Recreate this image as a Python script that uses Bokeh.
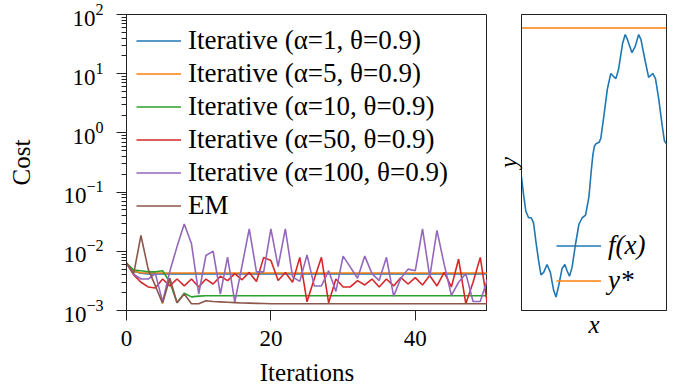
from bokeh.plotting import figure
from bokeh.layouts import row
from bokeh.models import Range1d, Legend, LegendItem, FixedTicker, LogTicker
from bokeh.embed import file_html
from bokeh.resources import INLINE

# ---------------- data ----------------
iterations = list(range(51))

cost_alpha1 = [6.3e-3, 4.6e-3, 4.25e-3, 4.15e-3, 4.15e-3, 4.15e-3, 4.15e-3, 4.15e-3, 4.15e-3, 4.15e-3,
               4.15e-3, 4.15e-3, 4.15e-3, 4.15e-3, 4.15e-3, 4.15e-3, 4.15e-3, 4.15e-3, 4.15e-3, 4.15e-3,
               4.15e-3, 4.15e-3, 4.15e-3, 4.15e-3, 4.15e-3, 4.15e-3, 4.15e-3, 4.15e-3, 4.15e-3, 4.15e-3,
               4.15e-3, 4.15e-3, 4.15e-3, 4.15e-3, 4.15e-3, 4.15e-3, 4.15e-3, 4.15e-3, 4.15e-3, 4.15e-3,
               4.15e-3, 4.15e-3, 4.15e-3, 4.15e-3, 4.15e-3, 4.15e-3, 4.15e-3, 4.15e-3, 4.15e-3, 4.15e-3,
               4.15e-3]
cost_alpha5 = [6.3e-3, 4.6e-3, 4.35e-3, 4.3e-3, 4.3e-3, 4.3e-3, 4.3e-3, 4.3e-3, 4.3e-3, 4.3e-3,
               4.3e-3, 4.3e-3, 4.3e-3, 4.3e-3, 4.3e-3, 4.3e-3, 4.3e-3, 4.3e-3, 4.3e-3, 4.3e-3,
               4.3e-3, 4.3e-3, 4.3e-3, 4.3e-3, 4.3e-3, 4.3e-3, 4.3e-3, 4.3e-3, 4.3e-3, 4.3e-3,
               4.3e-3, 4.3e-3, 4.3e-3, 4.3e-3, 4.3e-3, 4.3e-3, 4.3e-3, 4.3e-3, 4.3e-3, 4.3e-3,
               4.3e-3, 4.3e-3, 4.3e-3, 4.3e-3, 4.3e-3, 4.3e-3, 4.3e-3, 4.3e-3, 4.3e-3, 4.3e-3,
               4.3e-3]
cost_alpha10 = [6.3e-3, 4.8e-3, 4.7e-3, 4.5e-3, 4.5e-3, 4.7e-3, 3.0e-3, 1.35e-3, 1.95e-3, 1.7e-3,
                1.75e-3, 1.78e-3, 1.78e-3, 1.78e-3, 1.78e-3, 1.78e-3, 1.78e-3, 1.78e-3, 1.78e-3, 1.78e-3,
                1.78e-3, 1.78e-3, 1.78e-3, 1.78e-3, 1.78e-3, 1.78e-3, 1.78e-3, 1.78e-3, 1.78e-3, 1.78e-3,
                1.78e-3, 1.78e-3, 1.78e-3, 1.78e-3, 1.78e-3, 1.78e-3, 1.78e-3, 1.78e-3, 1.78e-3, 1.78e-3,
                1.78e-3, 1.78e-3, 1.78e-3, 1.78e-3, 1.78e-3, 1.78e-3, 1.78e-3, 1.78e-3, 1.78e-3, 1.78e-3,
                1.78e-3]
cost_alpha50 = [6.3e-3, 4.0e-3, 3.0e-3, 2.5e-3, 2.4e-3, 3.4e-3, 2.6e-3, 3.4e-3, 2.6e-3, 3.4e-3,
                2.5e-3, 3.4e-3, 2.8e-3, 3.8e-3, 3.2e-3, 4.2e-3, 3.3e-3, 4.4e-3, 3.1e-3, 7.9e-3,
                7.0e-3, 3.2e-3, 4.4e-3, 3.0e-3, 7.9e-3, 1.4e-3, 3.4e-3, 7.9e-3, 1.35e-3, 3.4e-3,
                2.5e-3, 2.5e-3, 3.2e-3, 2.7e-3, 3.4e-3, 2.5e-3, 3.4e-3, 2.6e-3, 3.6e-3, 2.8e-3,
                3.6e-3, 2.7e-3, 3.9e-3, 2.6e-3, 4.4e-3, 2.5e-3, 7.4e-3, 1.3e-3, 3.0e-3, 7.9e-3,
                1.25e-3]
cost_alpha100 = [6.3e-3, 4.1e-3, 3.4e-3, 3.4e-3, 4.2e-3, 1.4e-3, 4.6e-3, 1.2e-2, 2.9e-2, 1.34e-2,
                 1.9e-3, 8.5e-3, 1.0e-2, 1.9e-3, 8.0e-3, 1.38e-3, 5.7e-3, 2.4e-2, 4.5e-3, 4.5e-3,
                 2.4e-2, 5.5e-3, 2.4e-2, 3.7e-3, 3.1e-3, 8.7e-3, 2.6e-3, 2.6e-3, 4.7e-3, 2.1e-3,
                 8.3e-3, 5.4e-3, 3.5e-3, 8.3e-3, 4.2e-3, 3.2e-3, 7.9e-3, 1.75e-3, 3.5e-3, 5.0e-3,
                 4.7e-3, 2.4e-2, 3.7e-3, 2.25e-2, 6.0e-3, 1.8e-3, 3.0e-3, 4.2e-3, 1.42e-3, 1.42e-3,
                 3.4e-3]
cost_em = [6.3e-3, 4.2e-3, 1.85e-2, 5.0e-3, 2.6e-3, 1.32e-3, 3.5e-3, 1.35e-3, 1.9e-3, 1.3e-3,
           1.3e-3, 1.46e-3, 1.42e-3, 1.40e-3, 1.38e-3, 1.36e-3, 1.34e-3, 1.33e-3, 1.32e-3, 1.31e-3,
           1.30e-3, 1.30e-3, 1.30e-3, 1.30e-3, 1.30e-3, 1.30e-3, 1.30e-3, 1.30e-3, 1.30e-3, 1.30e-3,
           1.30e-3, 1.30e-3, 1.30e-3, 1.30e-3, 1.30e-3, 1.30e-3, 1.30e-3, 1.30e-3, 1.30e-3, 1.30e-3,
           1.30e-3, 1.30e-3, 1.30e-3, 1.30e-3, 1.30e-3, 1.30e-3, 1.30e-3, 1.30e-3, 1.30e-3, 1.30e-3,
           1.30e-3]

series_labels = ["Iterative (α=1, θ=0.9)", "Iterative (α=5, θ=0.9)", "Iterative (α=10, θ=0.9)",
                 "Iterative (α=50, θ=0.9)", "Iterative (α=100, θ=0.9)", "EM"]
x_ticks = [0, 20, 40]

# right panel: f(x) and y*
fx_x = [0.00, 0.14, 0.30, 0.49, 0.67, 0.83, 0.99, 1.18, 1.34, 1.53, 1.76, 1.99, 2.22, 2.38, 2.57,
        2.80, 2.99, 3.15, 3.31, 3.49, 3.73, 3.96, 4.19, 4.42, 4.65, 4.81, 4.93, 5.03, 5.14, 5.35,
        5.47, 5.69, 5.92, 6.16, 6.32, 6.51, 6.69, 6.97, 7.15, 7.31, 7.62, 7.85, 8.08, 8.24, 8.54,
        8.77, 9.05, 9.24, 9.47, 9.70, 9.86, 10.0]
fx_y = [-0.07, -0.20, -0.33, -0.38, -0.38, -0.42, -0.56, -0.71, -0.82, -0.80, -0.74, -0.80, -0.94,
        -0.99, -0.90, -0.77, -0.74, -0.79, -0.83, -0.76, -0.58, -0.43, -0.38, -0.36, -0.22, -0.02,
        0.11, 0.17, 0.19, 0.20, 0.23, 0.41, 0.61, 0.73, 0.71, 0.69, 0.76, 0.96, 1.03, 0.99, 0.89,
        0.94, 1.03, 0.99, 0.82, 0.70, 0.73, 0.69, 0.53, 0.33, 0.21, 0.19]
y_star = 1.08

# ---------------- style ----------------
FONT = "'Liberation Serif'"
colors = ["#1f77b4", "#ff7f0e", "#2ca02c", "#d62728", "#9467bd", "#8c564b"]


def style_common(p):
    p.outline_line_color = "#222222"
    p.outline_line_width = 1
    p.grid.visible = False
    p.background_fill_color = "white"
    p.border_fill_color = "white"
    for ax in p.axis:
        ax.axis_line_color = "#222222"
        ax.axis_line_width = 1
        ax.major_tick_line_color = "#222222"
        ax.minor_tick_line_color = "#222222"
        ax.major_tick_in = 0
        ax.minor_tick_in = 0
        ax.major_label_text_font = FONT
        ax.major_label_text_font_size = "23px"
        ax.major_label_text_color = "black"
        ax.axis_label_text_font = FONT
        ax.axis_label_text_font_size = "25px"
        ax.axis_label_text_color = "black"
        ax.axis_label_text_font_style = "normal"


# ---------------- left panel ----------------
p1 = figure(width=487, height=392, y_axis_type="log",
            x_range=Range1d(0, 50), y_range=Range1d(1e-3, 1e2),
            output_backend="svg", toolbar_location=None,
            min_border_left=126, min_border_right=0, min_border_top=14, min_border_bottom=82)
style_common(p1)
p1.yaxis.ticker = LogTicker(num_minor_ticks=10)
p1.yaxis.major_tick_out = 10
p1.yaxis.minor_tick_out = 5
p1.yaxis.major_label_standoff = 13
p1.yaxis.axis_label = "Cost"
p1.yaxis.axis_label_standoff = 25
p1.xaxis.ticker = FixedTicker(ticks=x_ticks)
p1.xaxis.major_tick_out = 10
p1.xaxis.minor_tick_line_color = None
p1.xaxis.major_label_standoff = 10
p1.xaxis.axis_label = "Iterations"
p1.xaxis.axis_label_standoff = 10

all_series = [cost_alpha1, cost_alpha5, cost_alpha10, cost_alpha50, cost_alpha100, cost_em]
items = []
for vals, lab, col in zip(all_series, series_labels, colors):
    r = p1.line(iterations, vals, line_color=col, line_width=1.6)
    items.append(LegendItem(label=lab, renderers=[r]))

leg1 = Legend(items=items, location="top_left", border_line_color=None,
              background_fill_alpha=0, margin=10, padding=1, spacing=0,
              glyph_width=45, glyph_height=33, label_height=33, label_standoff=7,
              label_text_font=FONT, label_text_font_size="27px", label_text_color="black")
p1.add_layout(leg1)

# ---------------- right panel ----------------
y_lo = min(min(fx_y), y_star)
y_hi = max(max(fx_y), y_star)
pad = 0.05 * (y_hi - y_lo)
p2 = figure(width=194, height=392,
            x_range=Range1d(fx_x[0], fx_x[-1]), y_range=Range1d(y_lo - pad, y_hi + pad),
            output_backend="svg", toolbar_location=None,
            min_border_left=34, min_border_right=15, min_border_top=14, min_border_bottom=82)
style_common(p2)
for ax in p2.axis:
    ax.ticker = FixedTicker(ticks=[])
    ax.major_tick_out = 0
    ax.minor_tick_out = 0
    ax.axis_label_text_font_style = "italic"
    ax.axis_label_standoff = 0
p2.xaxis.axis_label = "x"
p2.yaxis.axis_label = "y"

r_f = p2.line(fx_x, fx_y, line_color=colors[0], line_width=1.6)
r_s = p2.line([fx_x[0], fx_x[-1]], [y_star, y_star], line_color=colors[1], line_width=1.6)
leg2 = Legend(items=[LegendItem(label="f(x)", renderers=[r_f]), LegendItem(label="y*", renderers=[r_s])],
              location=(35, 13), border_line_color=None, background_fill_alpha=0,
              margin=0, padding=0, spacing=2, glyph_width=45, glyph_height=33, label_height=33,
              label_standoff=7, label_text_font=FONT, label_text_font_size="27px",
              label_text_font_style="italic", label_text_color="black")
p2.add_layout(leg2)

layout = row(p1, p2, spacing=0)
open("out.html", "w").write(file_html(layout, INLINE))
